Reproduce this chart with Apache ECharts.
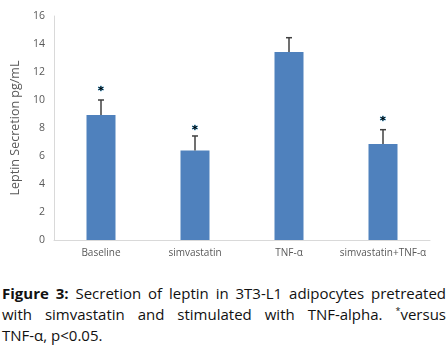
<!DOCTYPE html>
<html>
<head>
<meta charset="utf-8">
<script src="https://cdn.jsdelivr.net/npm/echarts@6/dist/echarts.min.js"></script>
<style>
  html, body { margin: 0; padding: 0; background: #fff; }
  #chart { width: 448px; height: 265px; }
  .caption {
    width: 444px;
    margin-left: 2px;
    font-family: 'Open Sans', 'Liberation Sans', sans-serif;
    font-size: 15px;
    line-height: 21px;
    color: #111;
    margin-top: 18px;
  }
  .caption .ln { text-align: justify; text-align-last: justify; white-space: nowrap; display: block; }
  .caption .last { text-align: left; text-align-last: left; }
  .caption b { font-weight: bold; }
  .caption sup { font-size: 9px; vertical-align: 6px; line-height: 0; }
</style>
</head>
<body>
<div id="chart"></div>
<div class="caption">
  <span class="ln"><b>Figure 3:</b> Secretion of leptin in 3T3-L1 adipocytes pretreated</span>
  <span class="ln">with simvastatin and stimulated with TNF-alpha. <sup>*</sup>versus</span>
  <span class="ln last">TNF-α, p&lt;0.05.</span>
</div>
<script>
// values
const categories = ['Baseline', 'simvastatin', 'TNF-α', 'simvastatin+TNF-α']
const means = [8.93, 6.4, 13.43, 6.86]
const errTops = [10.0, 7.43, 14.45, 7.88]
const starPos = [10.8, 8.0, null, 8.6]

const myChart = echarts.init(document.getElementById('chart'))

const option = {
  animation: false,
  grid: { left: 54, right: 18, top: 16, bottom: 25 },
  xAxis: {
    type: 'category',
    data: categories,
    axisTick: { show: false },
    axisLine: { lineStyle: { color: '#d9d9d9' } },
    axisLabel: { interval: 0, color: '#595959', fontSize: 10, margin: 8, fontFamily: 'Open Sans' }
  },
  yAxis: {
    type: 'value',
    min: 0,
    max: 16,
    interval: 2,
    name: 'Leptin Secretion pg/mL',
    nameLocation: 'middle',
    nameGap: 30,
    nameTextStyle: { color: '#595959', fontSize: 12.5, fontFamily: 'Open Sans' },
    splitLine: { show: false },
    axisTick: { show: false },
    axisLine: { show: true, lineStyle: { color: '#d9d9d9' } },
    axisLabel: { color: '#595959', fontSize: 10.5, margin: 9, fontFamily: 'Open Sans' }
  },
  series: [
    {
      type: 'bar',
      data: means,
      barWidth: 29,
      itemStyle: { color: '#4f81bd' }
    },
    {
      type: 'custom',
      data: categories.map((c, i) => [i, means[i], errTops[i]]),
      renderItem: function (params, api) {
        const base = api.coord([api.value(0), api.value(1)])
        const top = api.coord([api.value(0), api.value(2)])
        return {
          type: 'group',
          children: [
            { type: 'line', shape: { x1: base[0], y1: base[1], x2: top[0], y2: top[1] }, style: { stroke: '#404040', lineWidth: 1.5 } },
            { type: 'line', shape: { x1: top[0] - 3, y1: top[1], x2: top[0] + 3, y2: top[1] }, style: { stroke: '#404040', lineWidth: 1.5 } }
          ]
        }
      },
      z: 3
    },
    {
      type: 'custom',
      data: categories.map((c, i) => [i, starPos[i]]).filter(d => d[1] != null),
      renderItem: function (params, api) {
        const p = api.coord([api.value(0), api.value(1)])
        return {
          type: 'text',
          x: p[0],
          y: p[1] + 2,
          style: {
            text: '*',
            fill: '#000',
            stroke: '#2e9bd6',
            lineWidth: 0.6,
            fontSize: 11,
            fontWeight: 'bold',
            align: 'center',
            verticalAlign: 'middle',
            fontFamily: 'DejaVu Sans'
          }
        }
      },
      z: 4
    }
  ]
}

myChart.setOption(option)
</script>
</body>
</html>
